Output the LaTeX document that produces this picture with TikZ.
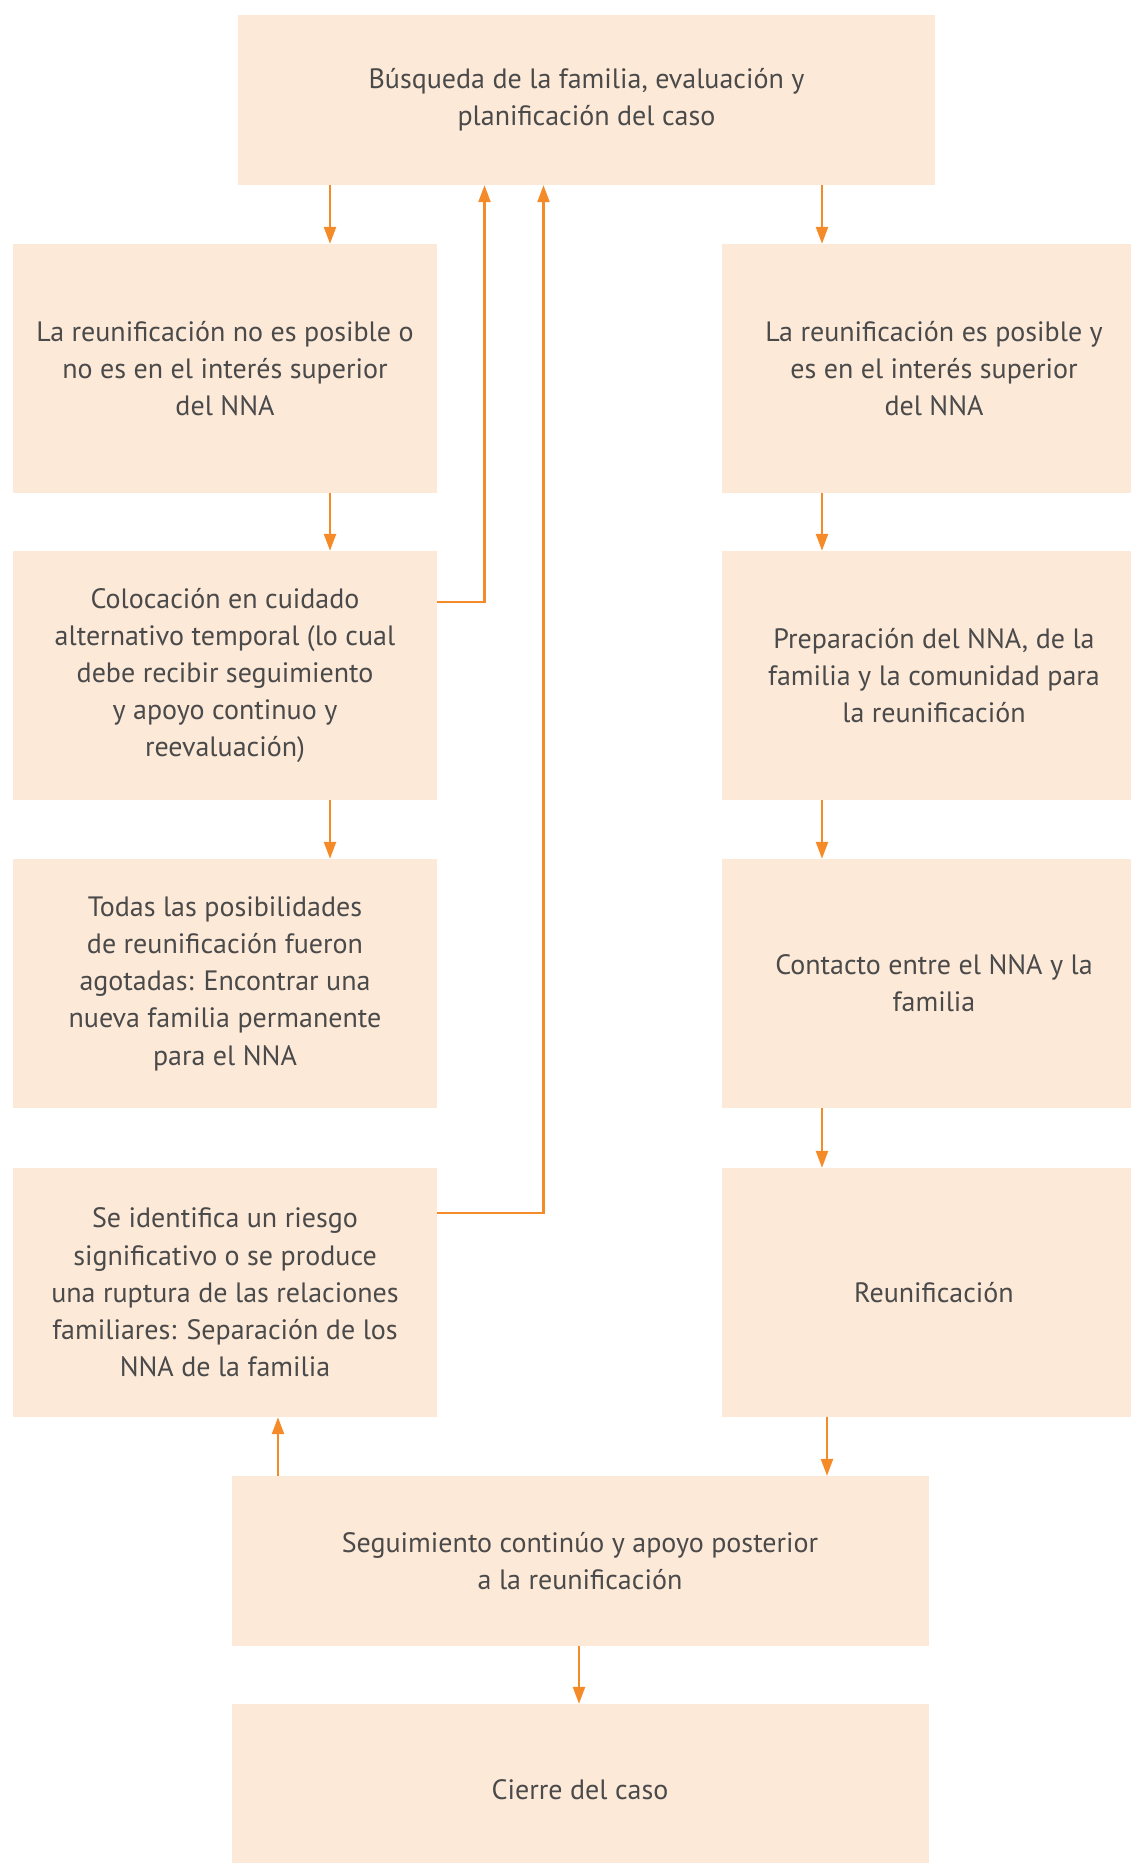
\documentclass[tikz,border=0pt]{standalone}
\usepackage{fontspec}
\setmainfont{PT Sans}
\usetikzlibrary{arrows.meta}
\definecolor{boxfill}{HTML}{FDE9D8}
\definecolor{arrcol}{HTML}{F58A28}
\definecolor{txtcol}{HTML}{4A4A4A}
\begin{document}
\begin{tikzpicture}[x=1pt,y=-1pt,
  box/.style={fill=boxfill,draw=none,inner sep=0pt,align=center,text=txtcol,
    font=\fontsize{28}{37.2}\selectfont},
  widebox/.style={box,minimum width=697pt,minimum height=170pt},
  colbox/.style={box,minimum width=424pt,minimum height=249pt},
  arr/.style={draw=arrcol,line width=2.4pt,-{Triangle[length=17pt,width=12pt]}}]
\clip (0,0) rectangle (1131,1863);
\fill[white] (0,0) rectangle (1131,1863);
\node[widebox] (top) at (586.5,100) {Búsqueda de la familia, evaluación y\\planificación del caso};
\node[colbox] (L1) at (225,368.5) {La reunificación no es posible o\\no es en el interés superior\\del NNA};
\node[colbox] (L2) at (225,675.5) {Colocación en cuidado\\alternativo temporal (lo cual\\debe recibir seguimiento\\y apoyo continuo y\\reevaluación)};
\node[colbox] (L3) at (225,983.5) {Todas las posibilidades\\de reunificación fueron\\agotadas: Encontrar una\\nueva familia permanente\\para el NNA};
\node[colbox] (L4) at (225,1292.5) {Se identifica un riesgo\\significativo o se produce\\una ruptura de las relaciones\\familiares: Separación de los\\NNA de la familia};
\node[colbox] (R1) at (934,368.5) {La reunificación es posible y\\es en el interés superior\\del NNA};
\node[colbox] (R2) at (934,675.5) {Preparación del NNA, de la\\familia y la comunidad para\\la reunificación};
\node[colbox] (R3) at (934,983.5) {Contacto entre el NNA y la\\familia};
\node[colbox] (R4) at (934,1292.5) {Reunificación};
\node[widebox] (B1) at (580,1561) {Seguimiento continúo y apoyo posterior\\a la reunificación};
\node[widebox,minimum height=171pt] (B2) at (580,1789.5) {Cierre del caso};
% straight arrows
\draw[arr] (330,0 |- top.south) -- (330,0 |- L1.north);
\draw[arr] (822,0 |- top.south) -- (822,0 |- R1.north);
\draw[arr] (330,0 |- L1.south) -- (330,0 |- L2.north);
\draw[arr] (822,0 |- R1.south) -- (822,0 |- R2.north);
\draw[arr] (330,0 |- L2.south) -- (330,0 |- L3.north);
\draw[arr] (822,0 |- R2.south) -- (822,0 |- R3.north);
\draw[arr] (822,0 |- R3.south) -- (822,0 |- R4.north);
\draw[arr] (827,0 |- R4.south) -- (827,0 |- B1.north);
\draw[arr] (278,0 |- B1.north) -- (278,0 |- L4.south);
\draw[arr] (579,0 |- B1.south) -- (579,0 |- B2.north);
% feedback arrows
\draw[arr] (L2.east |- 0,602) -- (484.5,602) -- (484.5,0 |- top.south);
\draw[arr] (L4.east |- 0,1213) -- (543.5,1213) -- (543.5,0 |- top.south);
\end{tikzpicture}
\end{document}
